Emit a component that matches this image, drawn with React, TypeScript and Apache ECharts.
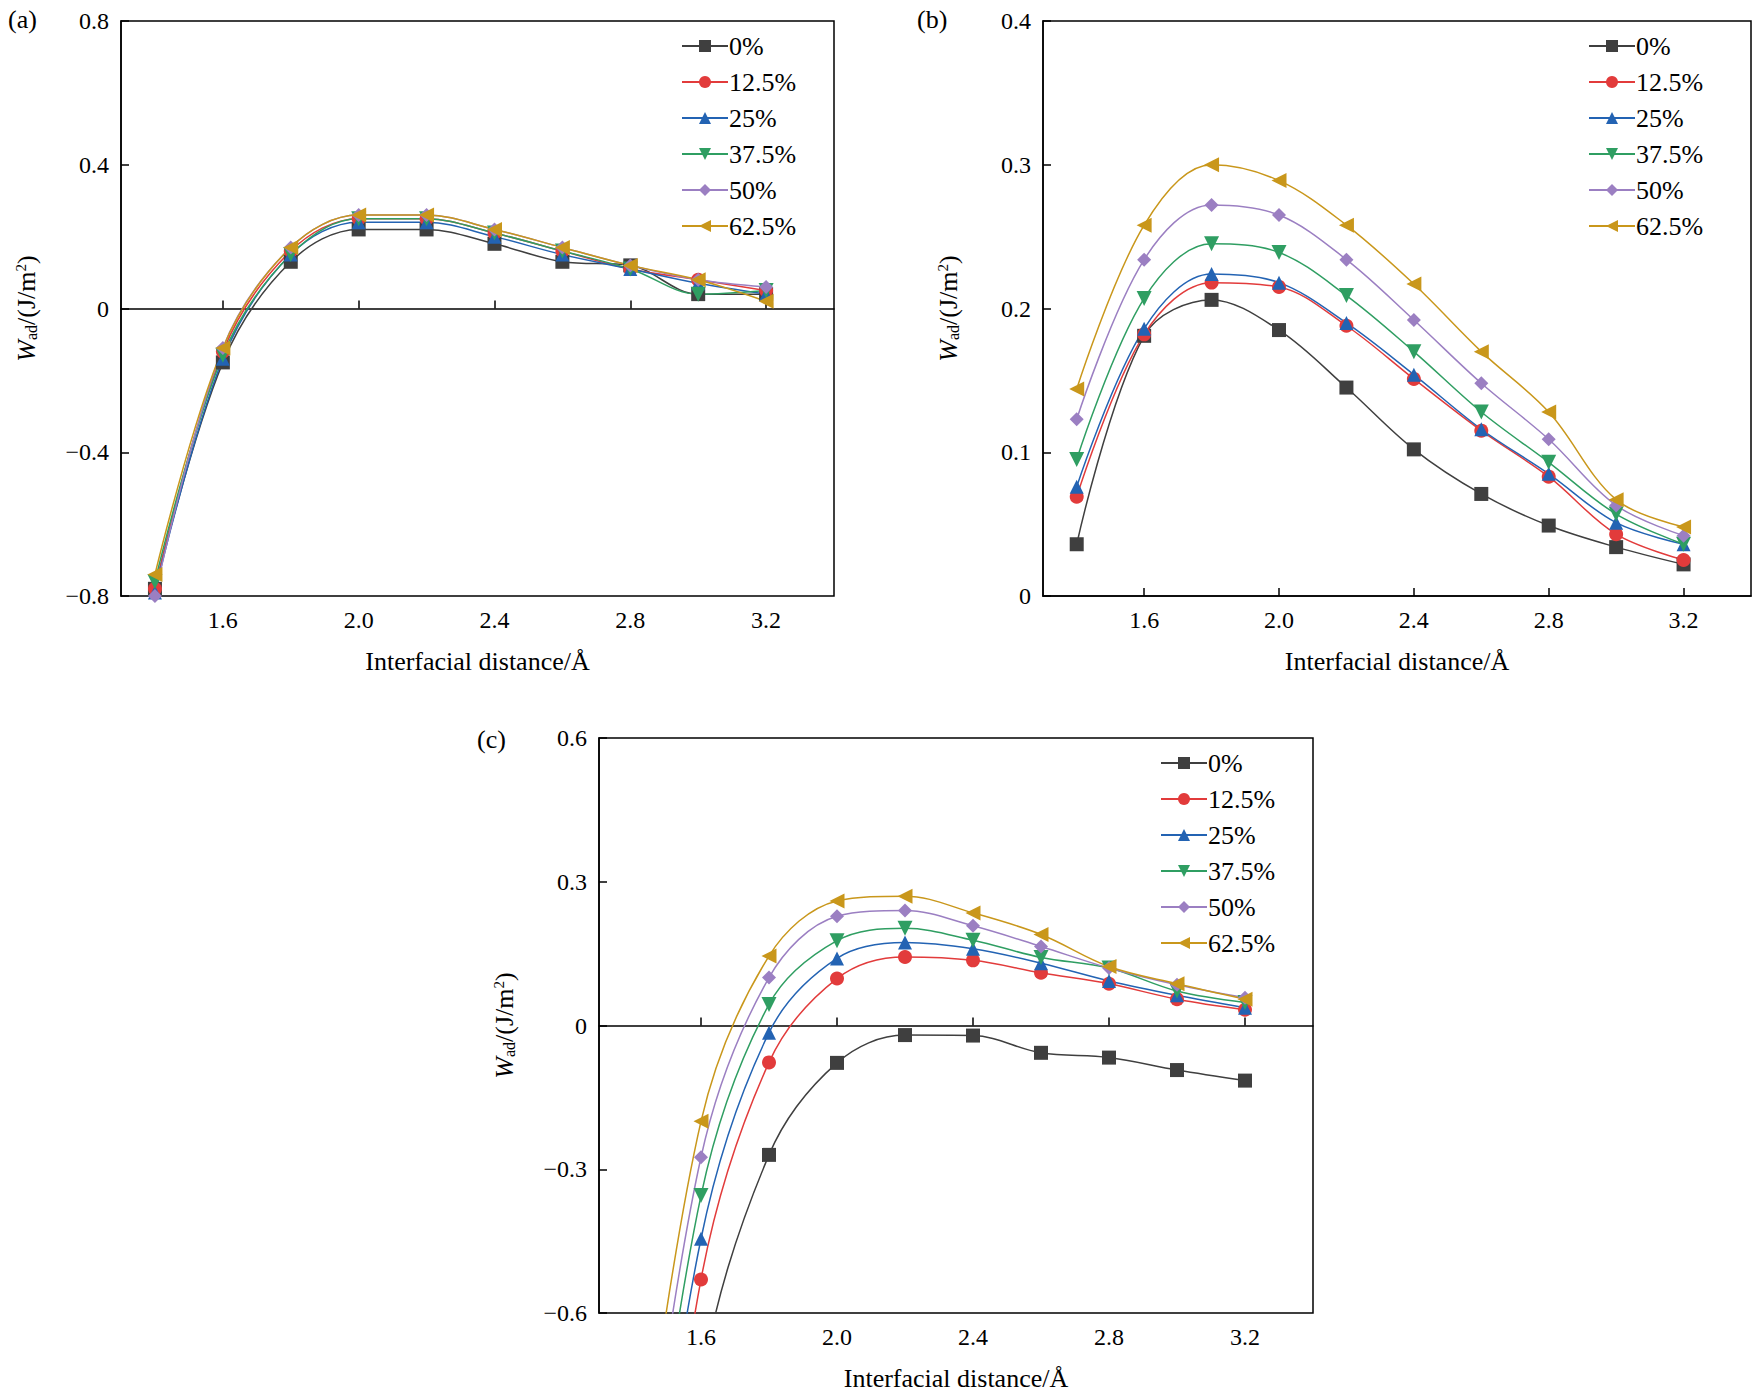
import * as echarts from 'echarts';
import { useEffect, useRef } from 'react';

const xs = [1.4, 1.6, 1.8, 2.0, 2.2, 2.4, 2.6, 2.8, 3.0, 3.2];
const seriesNames = ['0%', '12.5%', '25%', '37.5%', '50%', '62.5%'];
const colors = ['#3f3f3f', '#e23b3b', '#2363b3', '#2f9e62', '#9b7fc2', '#c9971b'];
const symbols = [
  'rect',
  'circle',
  'triangle',
  'path://M0,0 L10,0 L5,9 Z',
  'diamond',
  'path://M0,5 L9,0 L9,10 Z',
];
const xTicks = [1.6, 2.0, 2.4, 2.8, 3.2];

const dataA = [
  [-0.78, -0.15, 0.13, 0.22, 0.22, 0.18, 0.13, 0.12, 0.04, 0.04],
  [-0.78, -0.12, 0.16, 0.25, 0.25, 0.21, 0.16, 0.11, 0.08, 0.05],
  [-0.79, -0.14, 0.15, 0.24, 0.24, 0.2, 0.15, 0.11, 0.07, 0.04],
  [-0.76, -0.13, 0.15, 0.25, 0.25, 0.21, 0.16, 0.11, 0.04, 0.05],
  [-0.8, -0.11, 0.17, 0.26, 0.26, 0.22, 0.17, 0.12, 0.08, 0.06],
  [-0.74, -0.11, 0.17, 0.26, 0.26, 0.22, 0.17, 0.12, 0.08, 0.02],
];
const dataB = [
  [0.036, 0.181, 0.206, 0.185, 0.145, 0.102, 0.071, 0.049, 0.034, 0.022],
  [0.069, 0.182, 0.218, 0.215, 0.188, 0.151, 0.115, 0.083, 0.043, 0.025],
  [0.076, 0.186, 0.224, 0.218, 0.19, 0.154, 0.116, 0.085, 0.051, 0.036],
  [0.095, 0.207, 0.245, 0.239, 0.209, 0.17, 0.128, 0.093, 0.057, 0.036],
  [0.123, 0.234, 0.272, 0.265, 0.234, 0.192, 0.148, 0.109, 0.063, 0.042],
  [0.144, 0.258, 0.3, 0.289, 0.258, 0.217, 0.17, 0.128, 0.067, 0.048],
];
const dataC = [
  [-2.0, -0.75, -0.27, -0.078, -0.02, -0.021, -0.057, -0.067, -0.093, -0.115],
  [-1.6, -0.53, -0.077, 0.098, 0.143, 0.136, 0.11, 0.087, 0.055, 0.033],
  [-1.4, -0.445, -0.015, 0.14, 0.173, 0.16, 0.13, 0.093, 0.063, 0.037],
  [-1.3, -0.355, 0.044, 0.177, 0.203, 0.178, 0.142, 0.12, 0.072, 0.048],
  [-1.2, -0.275, 0.1, 0.228, 0.24, 0.208, 0.165, 0.12, 0.085, 0.058],
  [-1.1, -0.2, 0.145, 0.26, 0.27, 0.235, 0.19, 0.123, 0.087, 0.055],
];

const FONT = '"Liberation Serif", "Times New Roman", serif';

const panels = [
  { grid: { left: 121, top: 21, width: 713, height: 575 }, y: [-0.8, 0.8, 0.4], data: dataA, legend: { left: 676, top: 28 }, label: '(a)', lx: 8, ly: 6 },
  { grid: { left: 1043, top: 21, width: 708, height: 575 }, y: [0, 0.4, 0.1], data: dataB, legend: { left: 1583, top: 28 }, label: '(b)', lx: 917, ly: 6 },
  { grid: { left: 599, top: 738, width: 714, height: 575 }, y: [-0.6, 0.6, 0.3], data: dataC, legend: { left: 1155, top: 745 }, label: '(c)', lx: 477, ly: 726 },
];

export default function App() {
  const elRef = useRef<HTMLDivElement | null>(null);

  useEffect(() => {
    document.body.style.margin = '0';
    if (!elRef.current) return;
    const chart = echarts.init(elRef.current, undefined, { renderer: 'svg' });

    const fmt = (v: number) => String(Math.round(v * 10) / 10).replace('-', '\u2212');

    chart.setOption({
      animation: false,
      textStyle: { fontFamily: FONT },
      graphic: panels.map((p) => ({
        type: 'text',
        x: p.lx,
        y: p.ly,
        style: { text: p.label, font: `26px ${FONT}`, fill: '#000' },
      })),
      grid: panels.map((p) => ({ ...p.grid, show: true, borderColor: '#000', borderWidth: 1.5, backgroundColor: 'transparent' })),
      legend: panels.map((p, i) => ({
        ...p.legend,
        orient: 'vertical',
        data: seriesNames,
        itemWidth: 46,
        itemHeight: 15,
        itemGap: 10,
        textStyle: { fontFamily: FONT, fontSize: 26, color: '#000', padding: [0, 0, 0, -4] },
        selectedMode: false,
      })),
      xAxis: panels.map((_, i) => ({
        type: 'value',
        gridIndex: i,
        min: 1.3,
        max: 3.4,
        name: 'Interfacial distance/\u00c5',
        nameLocation: 'middle',
        nameGap: 52,
        nameTextStyle: { fontFamily: FONT, fontSize: 26, color: '#000' },
        axisLine: { lineStyle: { color: '#000', width: 1.5 } },
        axisTick: { inside: true, length: 8, customValues: xTicks, lineStyle: { color: '#000', width: 1.5 } },
        axisLabel: { customValues: xTicks, formatter: (v: number) => v.toFixed(1), fontFamily: FONT, fontSize: 24, color: '#000', margin: 12 },
        splitLine: { show: false },
      })),
      yAxis: panels.map((p, i) => ({
        type: 'value',
        gridIndex: i,
        min: p.y[0],
        max: p.y[1],
        interval: p.y[2],
        name: '{i|W}{s|ad}/(J/m{p|2})',
        nameLocation: 'middle',
        nameGap: 82,
        nameRotate: 90,
        nameTextStyle: {
          fontFamily: FONT,
          fontSize: 26,
          color: '#000',
          rich: {
            i: { fontFamily: FONT, fontSize: 26, fontStyle: 'italic' },
            s: { fontFamily: FONT, fontSize: 16, verticalAlign: 'bottom', padding: [10, 0, 0, 0] },
            p: { fontFamily: FONT, fontSize: 15, verticalAlign: 'top', padding: [0, 0, 10, 0] },
          },
        },
        axisLine: { show: true, lineStyle: { color: '#000', width: 1.5 } },
        axisTick: { inside: true, length: 8, lineStyle: { color: '#000', width: 1.5 } },
        axisLabel: { formatter: fmt, fontFamily: FONT, fontSize: 24, color: '#000', margin: 12 },
        splitLine: { show: false },
      })),
      series: panels.flatMap((p, gi) =>
        p.data.map((vals, si) => ({
          type: 'line',
          name: seriesNames[si],
          xAxisIndex: gi,
          yAxisIndex: gi,
          data: vals.map((v, k) => [xs[k], v]),
          smooth: 0.35,
          clip: true,
          symbol: symbols[si],
          symbolSize: si === 3 || si === 5 ? 15 : 14,
          color: colors[si],
          lineStyle: { color: colors[si], width: 1.5 },
          itemStyle: { color: colors[si] },
        }))
      ),
    });

    return () => chart.dispose();
  }, []);

  return <div ref={elRef} style={{ width: 1753, height: 1396 }} />;
}
